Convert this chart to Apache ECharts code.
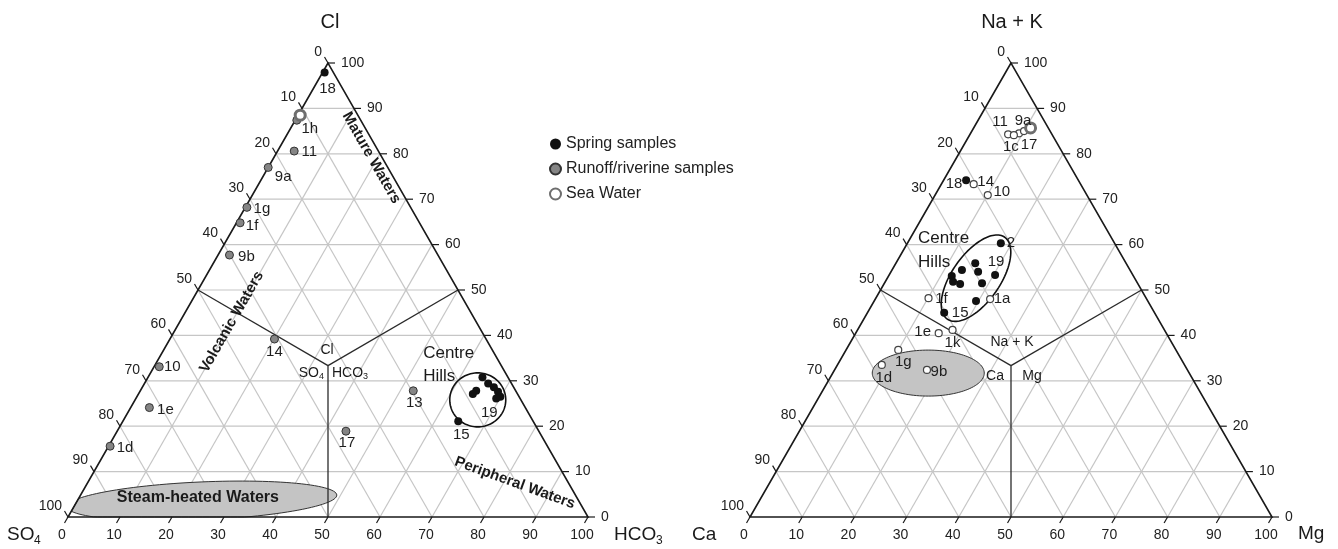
<!DOCTYPE html>
<html><head><meta charset="utf-8">
<script src="https://cdn.jsdelivr.net/npm/echarts@6/dist/echarts.min.js"></script>
<style>html,body{margin:0;padding:0;background:#fff}#c{width:1338px;height:549px}</style>
</head><body><div id="c"></div>
<script>
const FONT = '"Liberation Sans", Arial, sans-serif';
const TICKS = [0,10,20,30,40,50,60,70,80,90,100];
const GRID_STEPS = [10,20,30,40,50,60,70,80,90];
const LEGEND_NAMES = ['Spring samples','Runoff/riverine samples','Sea Water'];

// Left ternary: [Cl, SO4, HCO3, label]
const leftSpring = [
  [97.9, 1.7, 0.4, '18'],
  [30.8, 4.9, 64.3, ''],
  [29.4, 4.5, 66.1, ''],
  [28.6, 3.8, 67.6, ''],
  [27.6, 3.5, 68.9, ''],
  [26.5, 3.6, 69.9, ''],
  [26.1, 4.6, 69.3, '19'],
  [27.8, 7.6, 64.6, ''],
  [27.1, 8.6, 64.3, ''],
  [21.1, 14.4, 64.5, '15']
];
const leftRunoff = [
  [87.4, 12.3, 0.3, '1h'],
  [80.6, 16.2, 3.2, '11'],
  [77.0, 23.0, 0.0, '9a'],
  [68.2, 31.5, 0.3, '1g'],
  [64.8, 34.5, 0.7, '1f'],
  [57.7, 40.1, 2.2, '9b'],
  [39.2, 40.7, 20.1, '14'],
  [33.1, 65.9, 1.0, '10'],
  [27.8, 19.7, 52.5, '13'],
  [24.1, 72.3, 3.6, '1e'],
  [18.9, 37.1, 44.0, '17'],
  [15.6, 84.1, 0.3, '1d']
];
const leftSea = [[88.5, 11.1, 0.4, '']];

// Right ternary: [Na+K, Ca, Mg, label]
const rightSpring = [
  [74.2, 21.5, 4.3, '18'],
  [60.3, 21.8, 17.9, '2'],
  [55.9, 28.9, 15.2, ''],
  [54.4, 32.2, 13.4, ''],
  [54.0, 29.3, 16.7, ''],
  [53.3, 26.4, 20.3, '19'],
  [53.1, 34.8, 12.1, ''],
  [51.8, 35.2, 13.0, ''],
  [51.5, 29.8, 18.7, ''],
  [51.3, 34.1, 14.6, ''],
  [47.6, 32.9, 19.5, ''],
  [45.0, 40.3, 14.7, '15']
];
const rightRunoff = [
  [84.3, 8.4, 7.3, '11'],
  [84.5, 6.2, 9.3, '9a'],
  [84.1, 7.4, 8.5, '1c'],
  [85.0, 5.0, 10.0, '17'],
  [73.3, 20.5, 6.2, '14'],
  [70.9, 19.0, 10.1, '10'],
  [48.0, 30.0, 22.0, '1a'],
  [48.2, 41.7, 10.1, '1f'],
  [41.2, 40.6, 18.2, '1k'],
  [40.5, 43.6, 15.9, '1e'],
  [36.8, 53.2, 10.0, '1g'],
  [33.5, 58.0, 8.5, '1d'],
  [32.4, 49.9, 17.7, '9b']
];
const rightSea = [[85.7, 3.4, 10.9, '']];

// label placement (pixels, relative to the point)
const leftLabelOffset = {'18':[3,16],'19':[-7,14],'15':[3,14],'1h':[13,9],'11':[15,1],'9a':[15,9],
  '1g':[15,1],'1f':[12,3],'9b':[17,2],'14':[0,13],'10':[13,0],'13':[1,12],'1e':[16,2],'17':[1,12],'1d':[15,2]};
const rightLabelOffset = {'18':[-12,4],'2':[10,0],'19':[1,-13],'15':[16,0],'11':[-8,-12],'9a':[4,-13],
  '1c':[-3,12],'17':[5,14],'14':[12,-2],'10':[14,-3],'1a':[12,0],'1f':[13,1],'1k':[0,13],'1e':[-16,-1],
  '1g':[5,12],'1d':[2,13],'9b':[12,2]};

// ternary [top, left, right] -> cartesian data [x, y]
const toXY = p => [p[2] + p[0] / 2, p[0]];

const leftCfg = {
  texts: [
    {at:[100,0], d:[2,-41], text:'Cl', size:20},
    {at:[0,0], d:[-61,18], text:'SO', size:19, align:'left'},
    {at:[0,0], d:[-34,24], text:'4', size:12, align:'left'},
    {at:[0,100], d:[26,18], text:'HCO', size:19, align:'left'},
    {at:[0,100], d:[68,24], text:'3', size:12, align:'left'},
    {at:[100/3,100/3], d:[-1,-16], text:'Cl', size:14},
    {at:[100/3,100/3], d:[-9,7], text:'SO', size:14, align:'right'},
    {at:[100/3,100/3], d:[-9,11], text:'4', size:9, align:'left'},
    {at:[100/3,100/3], d:[4,7], text:'HCO', size:14, align:'left'},
    {at:[100/3,100/3], d:[35,11], text:'3', size:9, align:'left'},
    {at:[4.2,0], d:[119,0], text:'Steam-heated Waters', size:16, weight:'bold'},
    {at:[42.95,10.0], d:[0,0], text:'Volcanic Waters', size:15, weight:'bold', rot:60.2},
    {at:[79.1,18.8], d:[0,0], text:'Mature Waters', size:15, weight:'bold', rot:-60.2},
    {at:[7.5,82.2], d:[0,0], text:'Peripheral Waters', size:15, weight:'bold', rot:-20},
    {at:[33.6,51.5], d:[0,0], text:'Centre\nHills', size:17, align:'left', lh:23}
  ],
  regions: [
    {at:[4.2,0], d:[123,3], rx:135, ry:19, rot:-2.5, fill:'#c4c4c4', stroke:'#333', lw:1},
    {at:[25.8,65.9], d:[0,0], rx:28, ry:27, rot:0, fill:'none', stroke:'#111', lw:1.6}
  ]
};
const rightCfg = {
  texts: [
    {at:[100,0], d:[1,-41], text:'Na + K', size:20},
    {at:[0,0], d:[-58,18], text:'Ca', size:19, align:'left'},
    {at:[0,100], d:[26,17], text:'Mg', size:19, align:'left'},
    {at:[100/3,100/3], d:[1,-24], text:'Na + K', size:14},
    {at:[100/3,100/3], d:[-16,10], text:'Ca', size:14},
    {at:[100/3,100/3], d:[21,10], text:'Mg', size:14},
    {at:[58.8,2.8], d:[0,0], text:'Centre\nHills', size:17, align:'left', lh:24}
  ],
  regions: [
    {at:[31.7,18.3], d:[0,0], rx:56, ry:23, rot:0, fill:'#c4c4c4', stroke:'#333', lw:1},
    {at:[52.6,17.0], d:[0,0], rx:50, ry:24, rot:-55, fill:'none', stroke:'#111', lw:1.6}
  ]
};

function buildFrame(api, cfg) {
  const P = (t, r) => api.coord([r + t / 2, t]);
  const kids = [];
  const seg = (a, b, st) => kids.push({type:'line', shape:{x1:a[0], y1:a[1], x2:b[0], y2:b[1]}, style:st});
  const gridSt = {stroke:'#c6c6c6', lineWidth:1.2};
  GRID_STEPS.forEach(v => {
    seg(P(v, 0), P(v, 100 - v), gridSt);
    seg(P(0, v), P(100 - v, v), gridSt);
    seg(P(100 - v, 0), P(0, 100 - v), gridSt);
  });
  const T = P(100, 0), BL = P(0, 0), BR = P(0, 100);
  cfg.regions.forEach(rg => {
    const c0 = P(rg.at[0], rg.at[1]);
    const c = [c0[0] + rg.d[0], c0[1] + rg.d[1]];
    const rot = rg.rot * Math.PI / 180;
    const pts = [];
    for (let i = 0; i < 120; i++) {
      const th = i / 120 * 2 * Math.PI;
      const ex = rg.rx * Math.cos(th), ey = rg.ry * Math.sin(th);
      let x = c[0] + ex * Math.cos(rot) - ey * Math.sin(rot);
      let y = c[1] + ex * Math.sin(rot) + ey * Math.cos(rot);
      y = Math.min(y, BL[1]);
      const f = (BL[1] - y) / (BL[1] - T[1]);
      x = Math.max(x, BL[0] + f * (T[0] - BL[0]));
      x = Math.min(x, BR[0] + f * (T[0] - BR[0]));
      pts.push([x, y]);
    }
    kids.push({type:'polygon', shape:{points:pts}, style:{fill:rg.fill, stroke:rg.stroke, lineWidth:rg.lw}});
  });
  const domSt = {stroke:'#2a2a2a', lineWidth:1.3};
  const C = P(100/3, 100/3);
  seg(P(50, 0), C, domSt);
  seg(P(50, 50), C, domSt);
  seg(C, P(0, 50), domSt);
  kids.push({type:'polygon', shape:{points:[T, BL, BR]}, style:{fill:'none', stroke:'#1a1a1a', lineWidth:1.6}});
  const tickSt = {stroke:'#1a1a1a', lineWidth:1.2};
  const lab = (x, y, text, align) => kids.push({type:'text', x:x, y:y,
    style:{text:String(text), fill:'#222', fontSize:14, fontFamily:FONT, align:align, verticalAlign:'middle',
      textAlign:align, textVerticalAlign:'middle'}});
  TICKS.forEach(v => {
    let p = P(v, 100 - v);
    seg(p, [p[0] + 7, p[1]], tickSt);
    lab(p[0] + 13, p[1], v, 'left');
    p = P(100 - v, 0);
    seg(p, [p[0] - 3.5, p[1] - 6], tickSt);
    lab(p[0] - 6, p[1] - 11, v, 'right');
    p = P(0, v);
    seg(p, [p[0] - 3.5, p[1] + 6], tickSt);
    lab(p[0] - 6, p[1] + 18, v, 'center');
  });
  cfg.texts.forEach(tx => {
    const p = P(tx.at[0], tx.at[1]);
    const al = tx.align || 'center';
    kids.push({type:'text', x:p[0] + tx.d[0], y:p[1] + tx.d[1], rotation:(tx.rot || 0) * Math.PI / 180,
      style:{text:tx.text, fill:'#1a1a1a', fontSize:tx.size, fontFamily:FONT, fontWeight:tx.weight || 'normal',
        align:al, verticalAlign:'middle', textAlign:al, textVerticalAlign:'middle', lineHeight:tx.lh || undefined}});
  });
  return {type:'group', children:kids};
}

function frameSeries(idx, cfg) {
  return {type:'custom', coordinateSystem:'cartesian2d', xAxisIndex:idx, yAxisIndex:idx,
    data:[[0, 0]], clip:false, silent:true, z:1,
    renderItem:(params, api) => buildFrame(api, cfg)};
}

function pointSeries(idx, name, rows, offsets, symbolSize, itemStyle) {
  return {type:'scatter', name:name, xAxisIndex:idx, yAxisIndex:idx, z:5, silent:true,
    symbol:'circle', symbolSize:symbolSize, itemStyle:itemStyle,
    label:{show:true, position:'inside', color:'#1e1e1e', fontSize:15, fontFamily:FONT,
      textBorderWidth:0, formatter:p => p.name},
    data: rows.map(r => {
      const item = {value:toXY(r), name:r[3]};
      if (r[3] && offsets[r[3]]) item.label = {offset:offsets[r[3]]};
      else item.label = {show:false};
      return item;
    })};
}

const springStyle = {color:'#111', opacity:1};
const runoffStyleL = {color:'#858585', borderColor:'#333', borderWidth:1, opacity:1};
const runoffStyleR = {color:'#fff', borderColor:'#444', borderWidth:1.2, opacity:1};
const seaStyle = {color:'#fff', borderColor:'#6e6e6e', borderWidth:3, opacity:1};

const chart = echarts.init(document.getElementById('c'), null, {renderer:'canvas'});
chart.setOption({
  animation:false,
  backgroundColor:'#fff',
  grid:[
    {left:68, top:63, width:520, height:454},
    {left:750, top:63, width:522, height:454}
  ],
  xAxis:[
    {gridIndex:0, type:'value', min:0, max:100, show:false},
    {gridIndex:1, type:'value', min:0, max:100, show:false}
  ],
  yAxis:[
    {gridIndex:0, type:'value', min:0, max:100, show:false},
    {gridIndex:1, type:'value', min:0, max:100, show:false}
  ],
  legend:{orient:'vertical', left:544, top:131, itemWidth:11, itemHeight:11, itemGap:9,
    selectedMode:false, data:LEGEND_NAMES,
    textStyle:{fontSize:16, color:'#222', fontFamily:FONT}},
  series:[
    frameSeries(0, leftCfg),
    frameSeries(1, rightCfg),
    pointSeries(0, LEGEND_NAMES[0], leftSpring, leftLabelOffset, 8, springStyle),
    pointSeries(0, LEGEND_NAMES[1], leftRunoff, leftLabelOffset, 8, runoffStyleL),
    pointSeries(0, LEGEND_NAMES[2], leftSea, leftLabelOffset, 10, seaStyle),
    pointSeries(1, LEGEND_NAMES[0], rightSpring, rightLabelOffset, 8, springStyle),
    pointSeries(1, LEGEND_NAMES[1], rightRunoff, rightLabelOffset, 7, runoffStyleR),
    pointSeries(1, LEGEND_NAMES[2], rightSea, rightLabelOffset, 10, seaStyle)
  ]
});
</script></body></html>
